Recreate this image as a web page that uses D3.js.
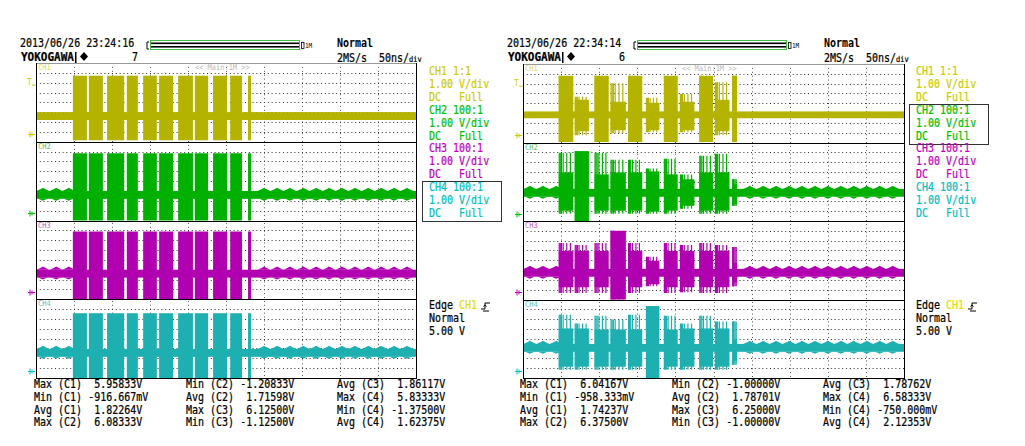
<!DOCTYPE html>
<html><head><meta charset="utf-8">
<script src="https://cdn.jsdelivr.net/npm/d3@7"></script>
<style>
html,body{margin:0;padding:0;background:#fff;}
svg{display:block;}
text{font-family:"DejaVu Sans Mono","Liberation Mono",monospace;font-size:10px;white-space:pre;}
</style></head><body>
<svg id="c" width="1025" height="446"></svg>
<script>
// ================= DATA =================
const channels = ["CH1", "CH2", "CH3", "CH4"];
const probeRatios = ["1:1", "100:1", "100:1", "100:1"];
const voltsPerDiv = ["1.00 V/div", "1.00 V/div", "1.00 V/div", "1.00 V/div"];
const couplings = ["DC   Full", "DC   Full", "DC   Full", "DC   Full"];
const timeDivisions = d3.range(0, 11);           // 10 horizontal divisions
const voltDivisions = d3.range(0, 9);            // 8 vertical divisions per strip
const stripVoltRange = [-0.75, 7.25];            // volts shown in each strip (1 V/div)

const dates = ["2013/06/26 23:24:16", "2013/06/26 22:34:14"];
const acqCounts = ["7", "6"];
const triggerModes = ["Normal", "Normal"];
const sampleRates = ["2MS/s", "2MS/s"];
const timeBases = ["50ns/", "50ns/"];
const memLabels = ["1M", "1M"];
const zoomLabels = ["<< Main:1M >>", "<< Main:1M >>"];
const triggerSource = ["Edge ", "CH1"];
const triggerLevel = ["Normal", "5.00 V"];
const triggerVolts = 5.0;
const boxedChannel = [3, 1];

// measurement texts, column-major (3 columns x 4 rows)
const measLeft = [
  "Max (C1)  5.95833V", "Min (C1) -916.667mV", "Avg (C1)  1.82264V", "Max (C2)  6.08333V",
  "Min (C2) -1.20833V", "Avg (C2)  1.71598V", "Max (C3)  6.12500V", "Min (C3) -1.12500V",
  "Avg (C3)  1.86117V", "Max (C4)  5.83333V", "Min (C4) -1.37500V", "Avg (C4)  1.62375V"];
const measRight = [
  "Max (C1)  6.04167V", "Min (C1) -958.333mV", "Avg (C1)  1.74237V", "Max (C2)  6.37500V",
  "Min (C2) -1.00000V", "Avg (C2)  1.78701V", "Max (C3)  6.25000V", "Min (C3) -1.00000V",
  "Avg (C3)  1.78762V", "Max (C4)  6.58333V", "Min (C4) -750.000mV", "Avg (C4)  2.12353V"];

// idle baseline level (V) and noise half-width (V) per channel
const baseLeft  = [1.86, 1.85, 1.85, 1.80];
const baseRight = [2.07, 2.12, 1.97, 2.32];
const noiseLeft  = [0.40, 0.40, 0.40, 0.40];
const noiseRight = [0.35, 0.40, 0.40, 0.40];
// crest positions (divisions) of the idle ripple seen on CH2..CH4
const rippleLeft  = [0.18, 0.53, 0.86, 6.00, 6.34, 6.68, 7.03, 7.37, 7.71, 8.05, 8.39, 8.74, 9.08, 9.42, 9.76];
const rippleRight = [0.18, 0.52, 0.87, 5.95, 6.30, 6.64, 6.98, 7.32, 7.66, 8.00, 8.34, 8.68, 9.02, 9.36, 9.70];
const rippleAmp = 0.2;

// LEFT screen: burst windows (start, end) in divisions, shared by all channels
const burstTimesLeft = [[0.97,1.34],[1.39,1.76],[1.87,2.32],[2.39,2.68],[2.82,3.18],
  [3.24,3.61],[3.74,4.13],[4.18,4.53],[4.66,5.03],[5.11,5.42],[5.58,5.66]];
// burst swing (low, high) in volts per channel
const burstLevelsLeft = [[-0.6, 5.96], [-1.21, 6.08], [-1.13, 6.13], [-1.38, 5.83]];

// RIGHT screen: burst windows (start, end) in divisions
const burstTimesRight = [[0.94,1.32],[1.36,1.73],[1.88,2.25],[2.30,2.70],[2.76,3.13],
  [3.23,3.58],[3.70,4.06],[4.12,4.50],[4.63,4.99],[5.04,5.42],[5.50,5.62]];
// per channel, per burst: [bodyLow, bodyHigh, spikeLow, spikeHigh] in volts
const burstsRightCH1 = [
  [-0.7,6.04,-0.7,6.04],[0.4,3.6,0.0,3.9],[-0.7,6.04,-0.7,6.04],[0.5,3.4,0.2,5.3],
  [-0.7,6.04,-0.7,6.04],[0.5,3.3,0.3,3.8],[-0.7,6.04,-0.7,6.04],[0.5,3.4,0.3,4.2],
  [-0.7,6.04,-0.7,6.04],[0.4,3.6,0.0,5.4],[-0.7,6.04,-0.7,6.04]];
const burstsRightCH2 = [
  [0.3,4.2,0.0,6.2],[-1.0,6.37,-1.0,6.37],[0.3,4.0,0.0,6.2],[0.3,4.2,0.0,5.5],
  [0.3,4.2,0.0,5.5],[0.2,4.3,0.0,4.6],[0.3,4.0,0.0,5.6],[0.8,3.5,0.5,4.0],
  [0.3,4.2,0.0,5.9],[0.3,4.2,0.0,6.1],[1.0,3.0,0.8,3.5]];
const burstsRightCH3 = [
  [0.5,4.2,-0.1,5.0],[0.5,4.2,-0.1,4.8],[0.5,4.2,-0.1,5.0],[-1.0,6.25,-1.0,6.25],
  [0.5,4.2,-0.1,5.0],[0.8,3.2,0.6,3.6],[0.5,4.2,-0.1,5.0],[0.5,4.2,0.0,4.8],
  [0.5,4.2,-0.1,5.0],[0.5,4.2,-0.1,4.8],[1.0,3.0,0.6,4.6]];
const burstsRightCH4 = [
  [0.4,4.3,0.1,5.7],[0.4,4.3,0.1,4.8],[0.4,4.2,0.1,5.6],[0.4,4.2,0.1,5.2],
  [0.4,4.2,0.1,5.7],[-0.75,6.58,-0.75,6.58],[0.4,4.2,0.1,5.6],[0.4,4.3,0.1,4.8],
  [0.4,4.3,0.1,5.6],[0.4,4.3,0.1,5.0],[1.0,3.2,0.6,5.0]];

// ================= STYLE / LAYOUT =================
const waveColors  = ["#b4b400", "#00b000", "#b000b0", "#1eb0b0"];
const labelColors = ["#cccc00", "#00c000", "#c000c0", "#00c0c0"];
const stripTagColors = ["#d8d870", "#60c060", "#c060c0", "#60c0c0"];

const svg = d3.select("#c");
const defs = svg.append("defs");
const panelLayouts = [
  {ox: 0,   x0: 36,  x1: 416, y0: 63, y1: 378},
  {ox: 487, x0: 523, x1: 904, y0: 64, y1: 378}
];

function T(g, x, y, s, o = {}) {
  const fill = o.fill || "#000";
  return g.append("text").attr("transform", `translate(${x},${y}) scale(1,${o.sy || 1.15})`).text(s)
    .attr("fill", fill)
    .attr("stroke", o.noStroke ? "none" : fill).attr("stroke-width", 0.2)
    .style("font-size", (o.size || 10) + "px")
    .style("font-weight", o.weight || "normal")
    .attr("text-anchor", o.anchor || "start");
}

panelLayouts.forEach((P, pi) => {
  const g = svg.append("g");
  const ox = P.ox;
  const x = d3.scaleLinear().domain([timeDivisions[0], timeDivisions[timeDivisions.length-1]]).range([P.x0, P.x1]);
  const sh = (P.y1 - P.y0) / 4;
  const yScales = channels.map((c, ci) =>
    d3.scaleLinear().domain(stripVoltRange).range([P.y0 + (ci+1)*sh, P.y0 + ci*sh]));

  // ----- header -----
  T(g, 20 + ox, 47, dates[pi]);
  T(g, 21 + ox, 61, "YOKOGAWA", {weight: "bold"}).attr("textLength", 53).attr("lengthAdjust", "spacingAndGlyphs");
  g.append("rect").attr("x", 75 + ox).attr("y", 52).attr("width", 1.5).attr("height", 11).attr("fill", "#000");
  g.append("path").attr("d", `M${84+ox},52 l4,4.5 l-4,4.5 l-4,-4.5 z`).attr("fill", "#000");
  T(g, 132 + ox, 61, acqCounts[pi]);

  // memory position bar
  g.append("path").attr("d", `M${149+ox},42 h-2 v7 h2`).attr("fill", "none").attr("stroke", "#000");
  g.append("rect").attr("x", 150.5 + ox).attr("y", 40.5).attr("width", 149).attr("height", 9)
    .attr("fill", "#fff").attr("stroke", "#40c040");
  g.append("rect").attr("x", 151 + ox).attr("y", 42.5).attr("width", 148).attr("height", 1.6).attr("fill", "#000");
  g.append("rect").attr("x", 151 + ox).attr("y", 46).attr("width", 148).attr("height", 1.6).attr("fill", "#000");
  g.append("rect").attr("x", 301.5 + ox).attr("y", 42.5).attr("width", 2.5).attr("height", 6)
    .attr("fill", "none").attr("stroke", "#000").attr("stroke-width", 0.8);
  T(g, 305 + ox, 48, memLabels[pi], {size: 6, noStroke: true});

  T(g, 337 + ox, 47, triggerModes[pi], {weight: "bold", noStroke: true});
  T(g, 337 + ox, 62, sampleRates[pi]);
  const tb = T(g, 379 + ox, 62, timeBases[pi]);
  tb.append("tspan").text("div").style("font-size", "7px");

  // ----- grid -----
  const grid = g.append("g");
  timeDivisions.slice(1, -1).forEach(d => {
    grid.append("line").attr("x1", Math.round(x(d)) + 0.5).attr("x2", Math.round(x(d)) + 0.5).attr("y1", P.y0).attr("y2", P.y1)
      .attr("stroke", "#555").attr("stroke-width", 1).attr("stroke-dasharray", "1,2.9");
  });
  channels.forEach((c, ci) => {
    const ys = yScales[ci];
    voltDivisions.slice(1, -1).forEach(k => {
      const v = stripVoltRange[0] + k;
      grid.append("line").attr("x1", P.x0).attr("x2", P.x1).attr("y1", Math.round(ys(v)) + 0.5).attr("y2", Math.round(ys(v)) + 0.5)
        .attr("stroke", "#333").attr("stroke-width", 1).attr("stroke-dasharray", "1,2.8");
    });
  });

  // ----- waveforms -----
  channels.forEach((c, ci) => {
    const ys = yScales[ci];
    const cid = `clip${pi}${ci}`;
    defs.append("clipPath").attr("id", cid).append("rect")
      .attr("x", P.x0).attr("y", ys(stripVoltRange[1])).attr("width", P.x1 - P.x0).attr("height", sh);
    const wg = g.append("g").attr("clip-path", `url(#${cid})`);
    const col = waveColors[ci];
    const base = pi === 0 ? baseLeft[ci] : baseRight[ci];
    const nz = pi === 0 ? noiseLeft[ci] : noiseRight[ci];
    wg.append("rect").attr("x", P.x0).attr("width", P.x1 - P.x0)
      .attr("y", ys(base + nz)).attr("height", ys(base - nz) - ys(base + nz)).attr("fill", col);
    if (ci > 0) {
      (pi === 0 ? rippleLeft : rippleRight).forEach(t => {
        wg.append("path").attr("d",
          `M${x(t - 0.17)},${ys(base + nz)} L${x(t - 0.05)},${ys(base + nz + rippleAmp)} L${x(t)},${ys(base + nz + 1.6 * rippleAmp)} L${x(t + 0.06)},${ys(base + nz + rippleAmp)} L${x(t + 0.17)},${ys(base + nz)} Z` +
          `M${x(t - 0.12)},${ys(base - nz)} L${x(t)},${ys(base - nz - rippleAmp)} L${x(t + 0.12)},${ys(base - nz)} Z`)
          .attr("fill", col);
      });
    }
    if (pi === 0) {
      const [lo, hi] = burstLevelsLeft[ci];
      burstTimesLeft.forEach(([t0, t1]) => {
        wg.append("rect").attr("x", x(t0)).attr("width", x(t1) - x(t0))
          .attr("y", ys(hi)).attr("height", ys(lo) - ys(hi)).attr("fill", col);
      });
    } else {
      const arr = [burstsRightCH1, burstsRightCH2, burstsRightCH3, burstsRightCH4][ci];
      burstTimesRight.forEach(([t0, t1], bi) => {
        const [bl, bh, sl, sH] = arr[bi];
        wg.append("rect").attr("x", x(t0)).attr("width", x(t1) - x(t0))
          .attr("y", ys(bh)).attr("height", ys(bl) - ys(bh)).attr("fill", col);
        [0.03, 0.1, 0.18, 0.3, 0.55, 0.8].forEach(f => {
          const tt = t0 + f * (t1 - t0);
          wg.append("line").attr("x1", x(tt)).attr("x2", x(tt)).attr("y1", ys(sH)).attr("y2", ys(sl))
            .attr("stroke", col).attr("stroke-width", 1.2);
        });
      });
    }
    // strip tag
    T(g, P.x0 + 2, ys(stripVoltRange[1]) + 7, c, {fill: stripTagColors[ci], size: 7, noStroke: true});
    // ground marker
    const gy = Math.round(ys(0)) + 0.5;
    g.append("path").attr("d", `M${P.x0-8},${gy} h7 M${P.x0-6},${gy-3} v6 M${P.x0-4},${gy-2} v4`)
      .attr("stroke", labelColors[ci]).attr("stroke-width", 1).attr("fill", "none");
  });
  // trigger level marker on CH1
  const ty = yScales[0](triggerVolts);
  T(g, P.x0 - 9, ty, "T", {fill: labelColors[0], size: 8, noStroke: true});
  g.append("path").attr("d", `M${P.x0-4},${ty} h4`).attr("stroke", labelColors[0]);

  T(g, (pi === 0 ? 195 : 682), P.y0 + 7, zoomLabels[pi], {fill: "#b8b8b8", size: 7, noStroke: true});

  // ----- frame -----
  for (let i = 1; i < 4; i++) {
    const yy = Math.round(P.y0 + i * sh) + 0.5;
    g.append("line").attr("x1", P.x0).attr("x2", P.x1).attr("y1", yy).attr("y2", yy).attr("stroke", "#000");
  }
  g.append("line").attr("x1", P.x0).attr("x2", P.x1).attr("y1", P.y0 + 0.5).attr("y2", P.y0 + 0.5).attr("stroke", "#999");
  g.append("line").attr("x1", P.x0).attr("x2", P.x1).attr("y1", P.y1 + 0.5).attr("y2", P.y1 + 0.5).attr("stroke", "#000");
  g.append("line").attr("x1", P.x0 + 0.5).attr("x2", P.x0 + 0.5).attr("y1", P.y0).attr("y2", P.y1 + 1).attr("stroke", "#000");
  g.append("line").attr("x1", P.x1 + 0.5).attr("x2", P.x1 + 0.5).attr("y1", P.y0).attr("y2", P.y1 + 1).attr("stroke", "#000");

  // ----- channel settings column -----
  const lx = 429 + ox;
  channels.forEach((c, ci) => {
    const yb = 75 + ci * 3 * 12.9;
    T(g, lx, yb, c, {fill: labelColors[ci]});
    T(g, lx + 24, yb, probeRatios[ci], {fill: labelColors[ci]});
    T(g, lx, yb + 12.9, voltsPerDiv[ci], {fill: labelColors[ci]});
    T(g, lx, yb + 25.8, couplings[ci], {fill: labelColors[ci]});
    if (ci === boxedChannel[pi]) {
      g.append("rect").attr("x", lx - 6.5).attr("y", Math.round(yb - 10) + 0.5).attr("width", 79).attr("height", 40)
        .attr("fill", "none").attr("stroke", "#333");
    }
  });
  // trigger info
  T(g, lx, 309, triggerSource[0]);
  T(g, lx + 30, 309, triggerSource[1], {fill: "#e0e000"});
  g.append("path").attr("d", `M${lx+52},309 h4 v-6 h5 M${lx+54},311 h6 M${lx+56},305 l-1.5,1.5 M${lx+56},305 l1.5,1.5`)
    .attr("stroke", "#000").attr("fill", "none");
  T(g, lx, 322, triggerLevel[0]);
  T(g, lx, 335, triggerLevel[1]);

  // ----- measurements -----
  const meas = pi === 0 ? measLeft : measRight;
  const colX = [34, 186, 337];
  meas.forEach((m, i) => {
    const col = Math.floor(i / 4), row = i % 4;
    T(g, colX[col] + ox - (pi ? 1 : 0), 388 + row * 12.8, m);
  });
});
</script></body></html>
